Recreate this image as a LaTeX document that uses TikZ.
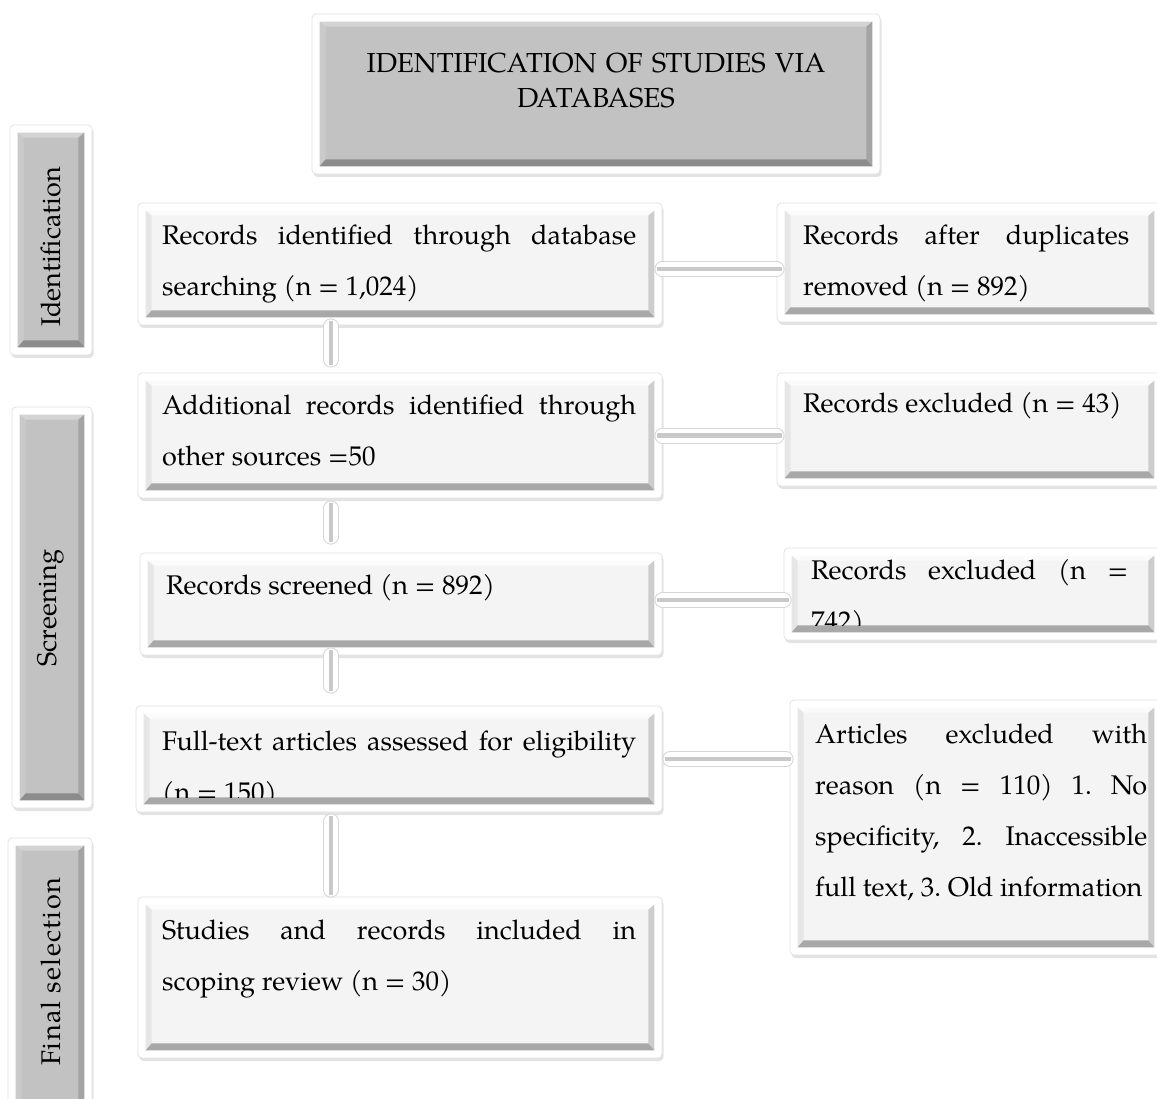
\documentclass[tikz,border=0pt]{standalone}
\usepackage{fontspec}
\setmainfont{TeX Gyre Pagella}
\usetikzlibrary{fit,shadows,calc}
\frenchspacing
\definecolor{wface}{HTML}{F4F4F4}
\definecolor{wtop}{HTML}{FBFBFB}
\definecolor{wleft}{HTML}{E6E6E6}
\definecolor{wright}{HTML}{CDCDCD}
\definecolor{wbot}{HTML}{A8A8A8}
\definecolor{gface}{HTML}{C2C2C2}
\definecolor{gtop}{HTML}{D4D4D4}
\definecolor{gleft}{HTML}{CACACA}
\definecolor{gright}{HTML}{A4A4A4}
\definecolor{gbot}{HTML}{8C8C8C}
\definecolor{framecol}{HTML}{E2E2E2}
\definecolor{conncol}{HTML}{C9C9C9}
\definecolor{connedge}{HTML}{D6D6D6}

\newcommand{\nohyph}{\frenchspacing\hyphenpenalty=10000\relax\exhyphenpenalty=10000\relax}
\newcommand{\bevbox}[6]{%
  \node[frame, fit={(#2,#3) (#4,#5)}] (#1) {};
  \coordinate (#1-o1) at ([shift={(8pt,-8pt)}]#1.north west);
  \coordinate (#1-o2) at ([shift={(-8pt,-8pt)}]#1.north east);
  \coordinate (#1-o3) at ([shift={(-8pt,8pt)}]#1.south east);
  \coordinate (#1-o4) at ([shift={(8pt,8pt)}]#1.south west);
  \coordinate (#1-i1) at ([shift={(14pt,-13pt)}]#1.north west);
  \coordinate (#1-i2) at ([shift={(-14pt,-13pt)}]#1.north east);
  \coordinate (#1-i3) at ([shift={(-14pt,15pt)}]#1.south east);
  \coordinate (#1-i4) at ([shift={(14pt,15pt)}]#1.south west);
  \fill[#6face] (#1-o1) rectangle (#1-o3);
  \fill[#6top] (#1-o1) -- (#1-o2) -- (#1-i2) -- (#1-i1) -- cycle;
  \fill[#6left] (#1-o1) -- (#1-i1) -- (#1-i4) -- (#1-o4) -- cycle;
  \fill[#6right] (#1-o2) -- (#1-o3) -- (#1-i3) -- (#1-i2) -- cycle;
  \fill[#6bot] (#1-o4) -- (#1-i4) -- (#1-i3) -- (#1-o3) -- cycle;
}
\newcommand{\connect}[4]{%
  \pgfmathsetmacro\csa{#3-5}\pgfmathsetmacro\csb{#4-5}%
  \draw[connA, shorten <=#3pt, shorten >=#4pt] #1 -- #2;
  \draw[connB, shorten <=#3pt, shorten >=#4pt] #1 -- #2;
  \draw[connC, shorten <=\csa pt, shorten >=\csb pt] #1 -- #2;
}

\begin{document}
\begin{tikzpicture}[x=1pt,y=-1pt,
  frame/.style={draw=framecol, line width=0.8pt, fill=white, rounded corners=4pt, inner sep=0pt,
    drop shadow={opacity=0.22, shadow xshift=1.5pt, shadow yshift=-3pt}},
  txt/.style={anchor=base west, inner sep=0pt, align=justify,
    font=\fontsize{27}{51}\selectfont},
  lbl/.style={rotate=90, inner sep=0pt, font=\fontsize{27}{30}\selectfont},
  connA/.style={line width=16pt, draw=connedge, line cap=round},
  connB/.style={line width=14pt, draw=white, line cap=round},
  connC/.style={line width=4.5pt, draw=conncol}]
\useasboundingbox (0,0) rectangle (1157,1099);
\fill[white] (0,0) rectangle (1157,1099);

% title and side labels
\bevbox{T}{312}{14}{880}{174}{g}
\bevbox{L1}{10}{125}{92}{355}{g}
\bevbox{L2}{12}{407}{92}{808}{g}
\bevbox{L3}{8}{838}{92}{1125}{g}

% main column
\bevbox{B1}{138}{203}{662}{325}{w}
\bevbox{B2}{138}{373}{662}{498}{w}
\bevbox{B3}{140}{553}{662}{655}{w}
\bevbox{B4}{136}{706}{662}{812}{w}
\bevbox{B5}{138}{897}{662}{1058}{w}

% right column
\bevbox{R1}{777}{203}{1162}{322}{w}
\bevbox{R2}{777}{373}{1162}{486}{w}
\bevbox{R3}{784}{548}{1162}{640}{w}
\bevbox{R4}{790}{700}{1162}{955}{w}

% texts
\node[anchor=base, inner sep=0pt, text width=560pt, align=center,
  font=\fontsize{27.5}{35}\selectfont] (Tt) at (596,73) {IDENTIFICATION OF STUDIES VIA\\DATABASES};
\node[lbl] (L1t) at (51,247) {Identification};
\node[lbl] (L2t) at (51,608) {Screening};
\node[lbl] (L3t) at (51,972) {\addfontfeature{LetterSpace=5}Final selection};

\node[txt, text width=474pt] (B1t) at (162,245) {\nohyph Records identified through database\linebreak searching (n = 1,024)};
\node[txt, text width=326pt] (R1t) at (803,245) {\nohyph Records after duplicates\linebreak removed (n = 892)};
\node[txt, text width=474pt] (B2t) at (162,414) {\nohyph Additional records identified through\linebreak other sources =50};
\node[txt, text width=340pt] (R2t) at (803,412) {\nohyph Records excluded (n = 43)};
\node[txt, text width=474pt] (B3t) at (166,594) {\nohyph Records screened (n = 892)};
\begin{scope}
  \clip (R3-o1) rectangle (R3-i3);
  \node[txt, text width=317pt] (R3t) at (811,579) {\nohyph Records excluded (n =\linebreak 742)};
\end{scope}
\begin{scope}
  \clip (B4-o1) rectangle (B4-i3);
  \node[txt, text width=474pt] (B4t) at (162,750) {\nohyph Full-text articles assessed for eligibility\linebreak (n = 150)};
\end{scope}
\node[txt, text width=332pt] (R4t) at (815,743) {\nohyph Articles excluded with\linebreak reason (n = 110) 1. No\linebreak specificity, 2. Inaccessible\linebreak full text, 3. Old information};
\node[txt, text width=474pt] (B5t) at (162,939) {\nohyph Studies and records included in\linebreak scoping review (n = 30)};

% connectors
\coordinate (vx) at (331,0);
\connect{([yshift=-5pt]B1.east)}{([yshift=-5pt]B1.east -| R1.west)}{0}{0}
\connect{(B2.east)}{(B2.east -| R2.west)}{0}{0}
\connect{([yshift=4pt]B3.east)}{([yshift=4pt]B3.east -| R3.west)}{0}{0}
\connect{(B4.east)}{(B4.east -| R4.west)}{8}{4}
\connect{(B1.south -| vx)}{(B2.north -| vx)}{1}{13}
\connect{(B2.south -| vx)}{(B3.north -| vx)}{10}{16}
\connect{(B3.south -| vx)}{(B4.north -| vx)}{0}{20}
\connect{(B4.south -| vx)}{(B5.north -| vx)}{9}{7}
\end{tikzpicture}
\end{document}
